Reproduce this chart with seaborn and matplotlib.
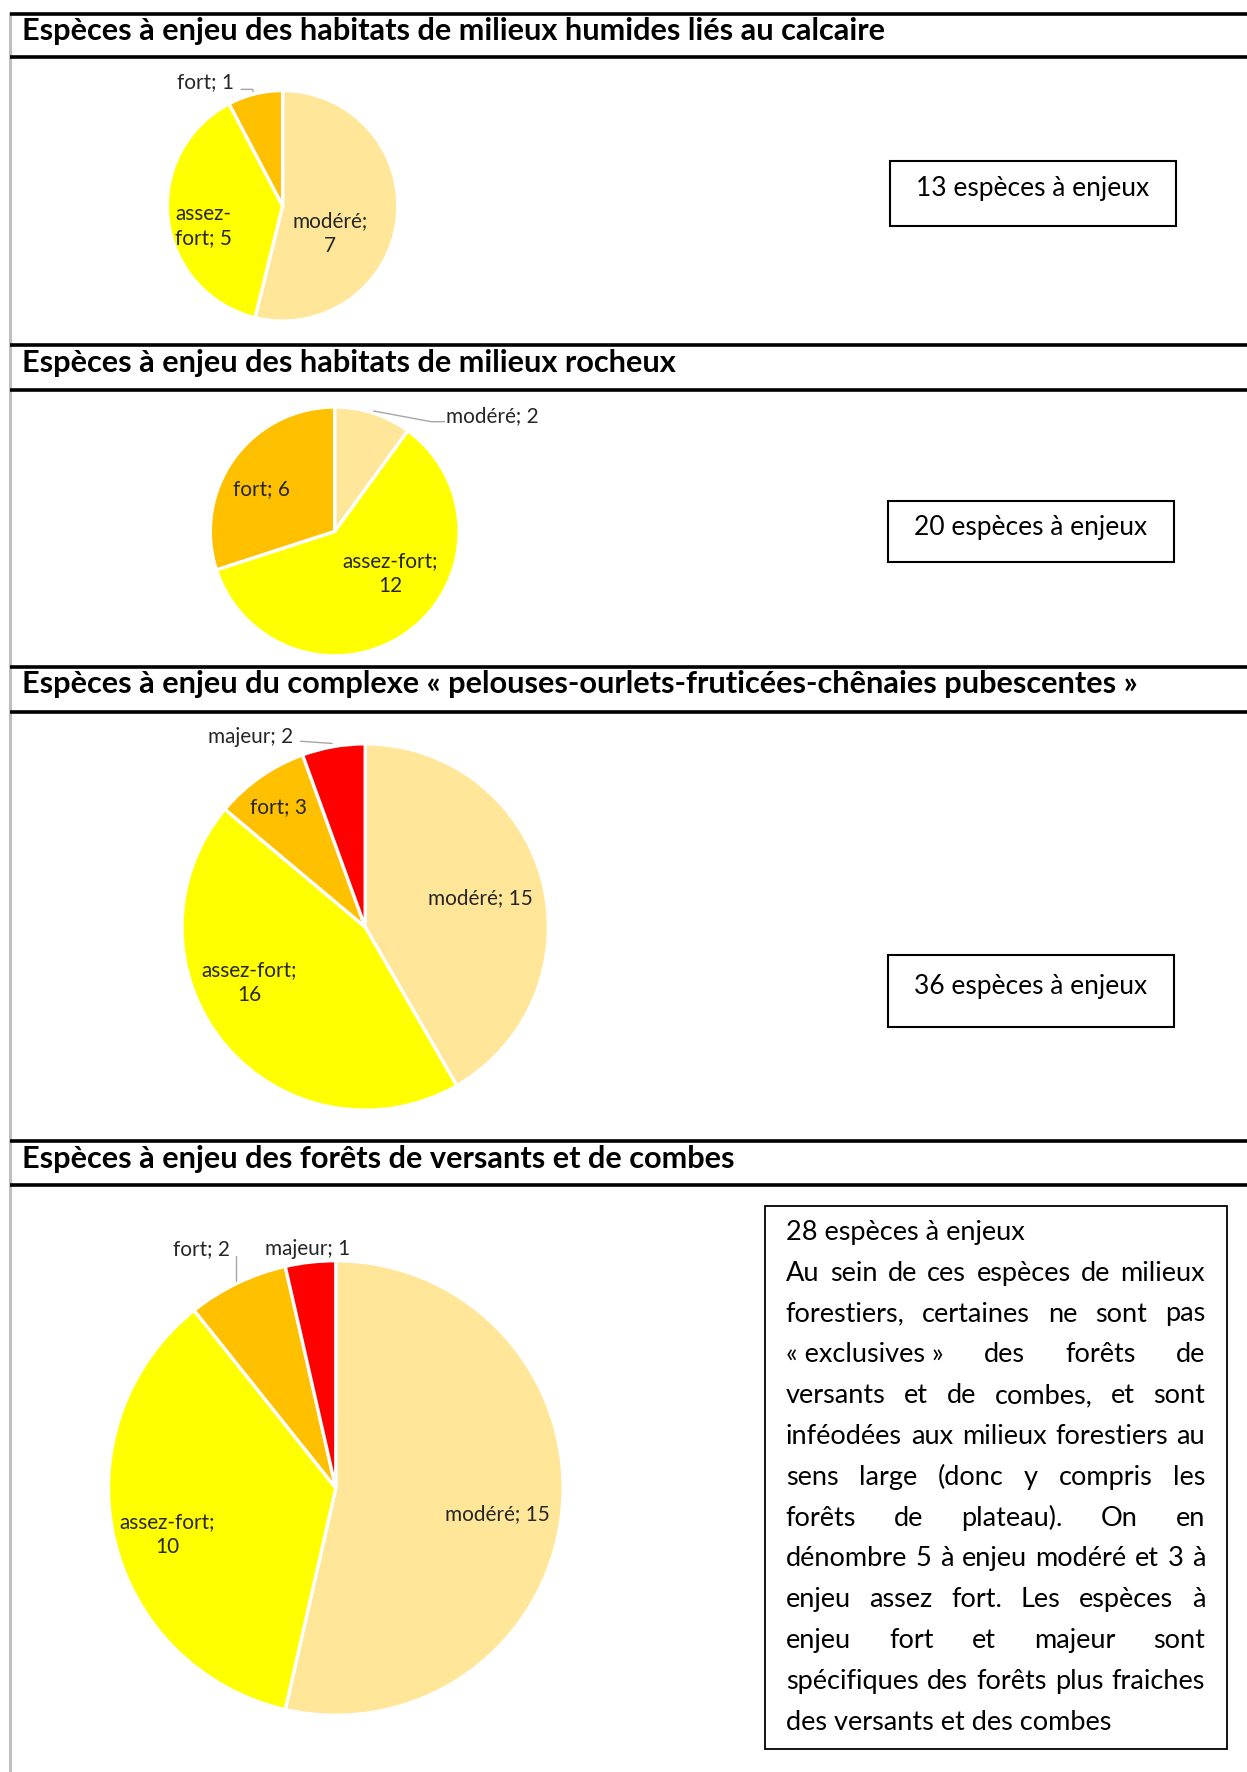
import matplotlib
matplotlib.use("Agg")
import matplotlib.pyplot as plt
import seaborn as sns
from matplotlib.patches import Rectangle

W, H = 1247, 1772

sns.set_theme(style="white")
plt.rcParams['font.family'] = ['Lato', 'DejaVu Sans']

# data
niveaux = ["modéré", "assez-fort", "fort", "majeur"]
couleurs = ["#FFE699", "#FFFF00", "#FFC000", "#FF0000"]

titres = [
    "Espèces à enjeu des habitats de milieux humides liés au calcaire",
    "Espèces à enjeu des habitats de milieux rocheux",
    "Espèces à enjeu du complexe « pelouses-ourlets-fruticées-chênaies pubescentes »",
    "Espèces à enjeu des forêts de versants et de combes",
]
humides = [7, 5, 1]
rocheux = [2, 12, 6]
pelouses = [15, 16, 3, 2]
forets = [15, 10, 2, 1]
totaux = [13, 20, 36, 28]
series = [humides, rocheux, pelouses, forets]

texte_forets = [
    "Au sein de ces espèces de milieux",
    "forestiers, certaines ne sont pas",
    "«\u00a0exclusives\u00a0» des forêts de",
    "versants et de combes, et sont",
    "inféodées aux milieux forestiers au",
    "sens large (donc y compris les",
    "forêts de plateau). On en",
    "dénombre 5 à enjeu modéré et 3 à",
    "enjeu assez fort. Les espèces à",
    "enjeu fort et majeur sont",
    "spécifiques des forêts plus fraiches",
    "des versants et des combes",
]

# layout (pixels): top line, title y, line under title
bandeaux = [(13.6, 30.5, 56.5), (344.8, 363, 390), (667, 684, 712), (1141, 1159, 1185)]
# pie centre x, centre y, radius
camemberts = [(282.6, 205.8, 115.3), (334.7, 531.4, 124.4), (365.2, 927, 183.2), (335.8, 1488, 227.3)]
# boxes: x0, y0, x1, y1, text y
cadres = [(889.8, 160.5, 1175.8, 226, 188), (887.5, 500.8, 1173.5, 561.9, 528),
          (887.5, 955.3, 1173.5, 1026.6, 986)]

# label placement per slice: dx, dy (radius units), ha, wrap
etiquettes = [
    [(0.41, -0.24, "center", "semi"), (-0.686, -0.175, "center", "hyphen"), (-0.42, 1.069, "right", None)],
    [(0.897, 0.93, "left", None), (0.449, -0.337, "center", "semi"), (-0.592, 0.341, "center", None)],
    [(0.629, 0.16, "center", None), (-0.635, -0.303, "center", "semi"), (-0.475, 0.653, "center", None),
     (-0.392, 1.039, "right", None)],
    [(0.711, -0.114, "center", None), (-0.741, -0.204, "center", "semi"), (-0.465, 1.05, "right", None),
     (-0.125, 1.05, "center", None)],
]
# leader lines (radius units)
reperes = [
    [[(-0.36, 1.01), (-0.26, 1.01), (-0.255, 0.99)]],
    [[(0.313, 0.968), (0.774, 0.882), (0.885, 0.882)]],
    [[(-0.353, 1.014), (-0.181, 1.002)]],
    [[(-0.439, 1.021), (-0.439, 0.911)]],
]

fig = plt.figure(figsize=(W / 100, H / 100), dpi=100)
fig.patch.set_facecolor("white")
ax0 = fig.add_axes([0, 0, 1, 1])
ax0.set_xlim(0, W)
ax0.set_ylim(H, 0)
ax0.axis("off")
renderer = fig.canvas.get_renderer()


def largeur(txt, size, weight="normal"):
    t = ax0.text(0, 0, txt, fontsize=size, fontweight=weight)
    w = t.get_window_extent(renderer).width
    t.remove()
    return w


# font sizes fitted to the widths measured on the picture
fs_titre = 20 * 866 / largeur(titres[0], 20, "bold")
fs_cadre = 20 * 234 / largeur("13 espèces à enjeux", 20)
fs_para = 20 * 326.7 / largeur(texte_forets[-1], 20)
fs_label = 20 * 105 / largeur("modéré; 15", 20)

# left grey rule
ax0.plot([10, 10], [12, H], color="#bfbfbf", lw=2.2, solid_capstyle="butt")

for i, (haut, ty, bas) in enumerate(bandeaux):
    ax0.plot([10, W], [haut, haut], color="black", lw=2.6, solid_capstyle="butt")
    ax0.plot([10, W], [bas, bas], color="black", lw=2.6, solid_capstyle="butt")
    ax0.text(22, ty, titres[i], fontsize=fs_titre, fontweight="bold", va="center", ha="left", color="black")

for i, vals in enumerate(series):
    cx, cy, r = camemberts[i]
    ax = fig.add_axes([(cx - r) / W, 1 - (cy + r) / H, 2 * r / W, 2 * r / H])
    ax.pie(vals, colors=couleurs[:len(vals)], startangle=90, counterclock=False, radius=1,
           wedgeprops=dict(edgecolor="white", linewidth=2.4))
    ax.set_xlim(-1, 1)
    ax.set_ylim(-1, 1)
    ax.set_aspect("auto")
    ax.axis("off")
    for j, v in enumerate(vals):
        dx, dy, ha, wrap = etiquettes[i][j]
        lab = f"{niveaux[j]}; {v}"
        if wrap == "semi":
            lab = lab.replace("; ", ";\n")
        elif wrap == "hyphen":
            lab = lab.replace("-", "-\n", 1)
        ax.text(dx, dy, lab, fontsize=fs_label, ha=ha, va="center",
                multialignment="center" if wrap == "semi" else "left",
                color="#262626", linespacing=1.3)
    for pts in reperes[i]:
        xs, ys = zip(*pts)
        ax.plot(xs, ys, color="#a6a6a6", lw=1, clip_on=False)

for i, (x0, y0, x1, y1, ty) in enumerate(cadres):
    ax0.add_patch(Rectangle((x0, y0), x1 - x0, y1 - y0, fill=False, edgecolor="black", lw=1.5))
    ax0.text((x0 + x1) / 2, ty, f"{totaux[i]} espèces à enjeux", fontsize=fs_cadre, ha="center", va="center",
             color="black")

# last section: justified paragraph box
ax0.add_patch(Rectangle((765.4, 1206.3), 1226.7 - 765.4, 1749 - 1206.3, fill=False, edgecolor="black", lw=1.3))
gauche, droite, y0, pas = 785.8, 1205.2, 1232.4, 40.8
lignes = [f"{totaux[3]} espèces à enjeux"] + texte_forets
for k, ligne in enumerate(lignes):
    y = y0 + k * pas
    mots = ligne.split(" ")
    if k == 0 or k == len(lignes) - 1 or len(mots) == 1:
        ax0.text(gauche, y, ligne, fontsize=fs_para, ha="left", va="center", color="black")
        continue
    ws = [largeur(m, fs_para) for m in mots]
    gap = (droite - gauche - sum(ws)) / (len(mots) - 1)
    x = gauche
    for m, w in zip(mots, ws):
        ax0.text(x, y, m, fontsize=fs_para, ha="left", va="center", color="black")
        x += w + gap

fig.savefig("out.png", dpi=100, facecolor="white")
